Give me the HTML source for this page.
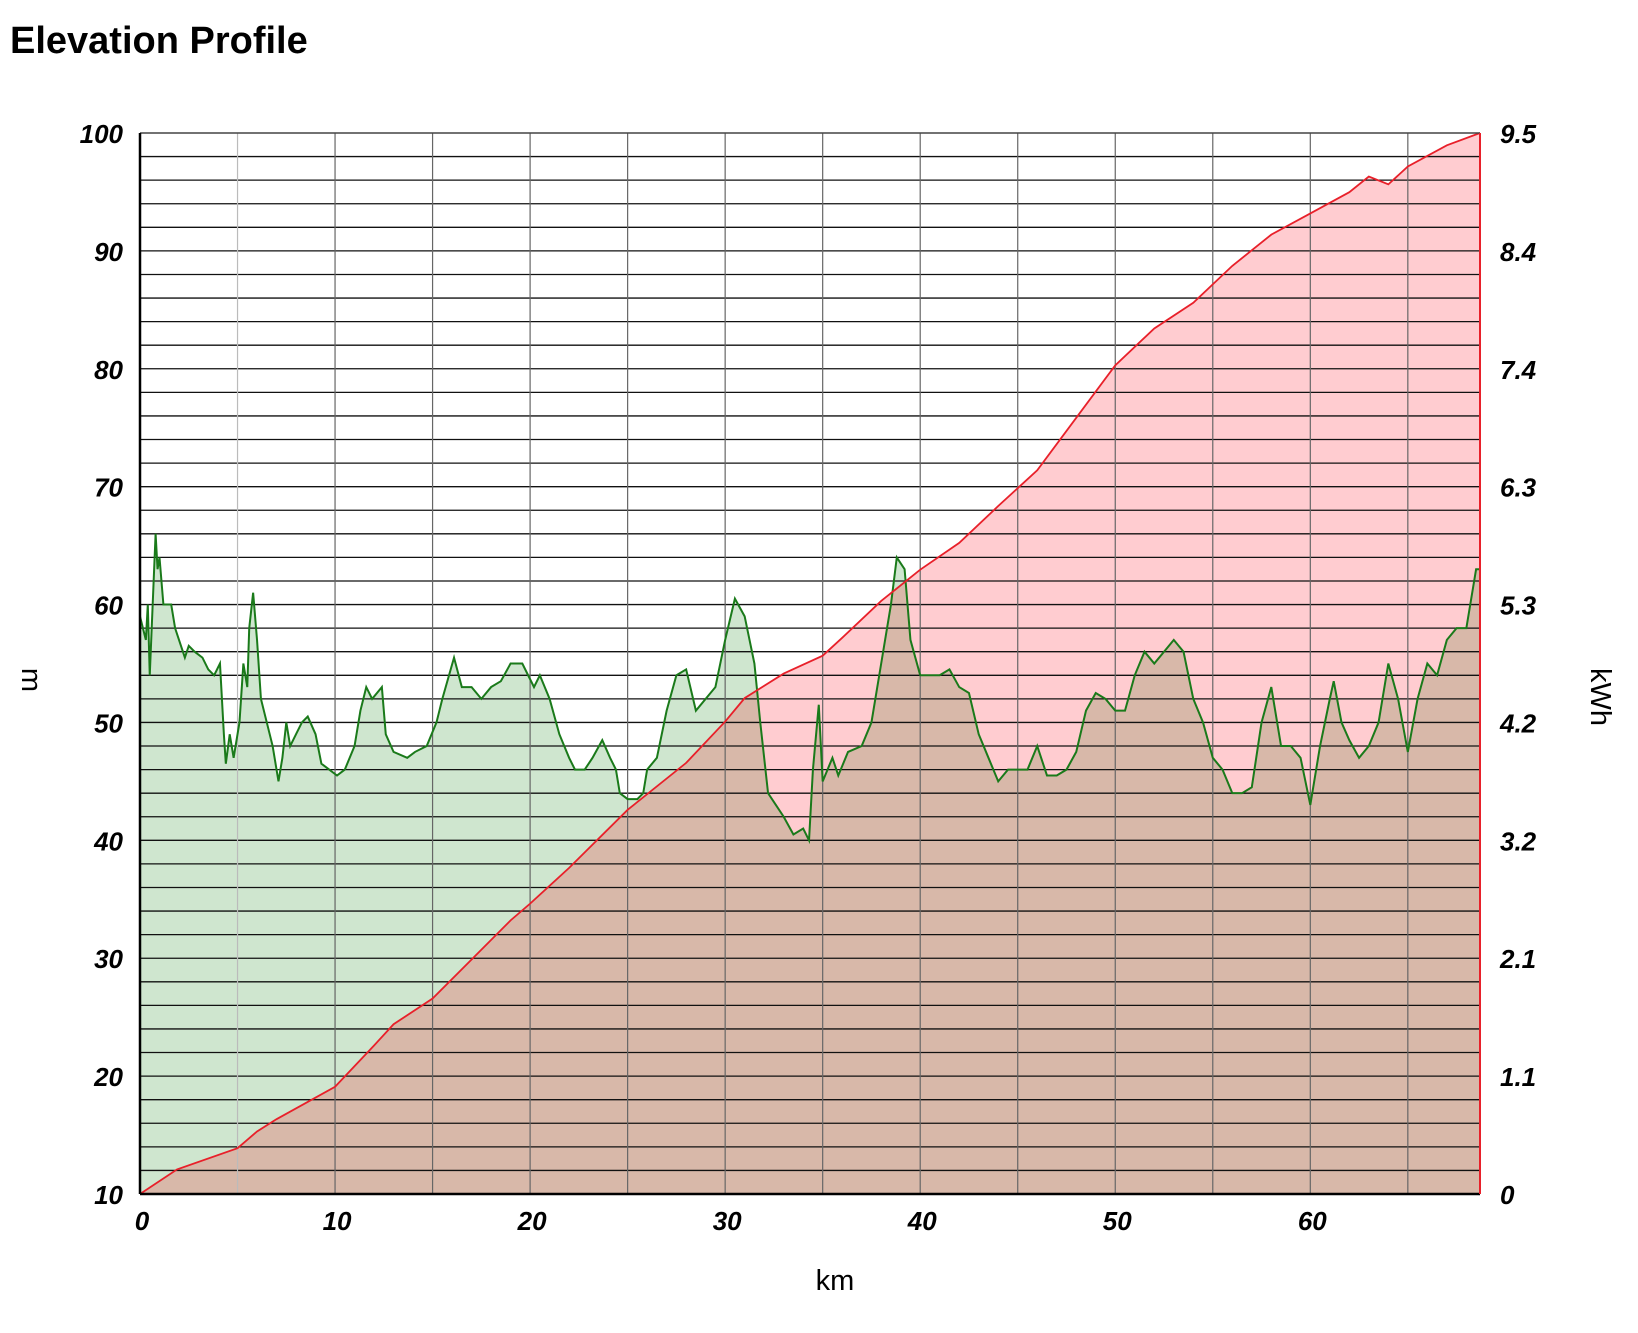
<!DOCTYPE html>
<html><head><meta charset="utf-8"><style>
body{margin:0;background:#fff;width:1638px;height:1328px;overflow:hidden;font-family:"Liberation Sans",sans-serif}
</style></head><body>
<svg width="1638" height="1328" xmlns="http://www.w3.org/2000/svg">
<text x="10" y="53" font-size="38" font-weight="bold" font-family="Liberation Sans, sans-serif">Elevation Profile</text>
<g id="fills"></g><g id="grid"></g><g id="lines"></g><g id="axes"></g>
</svg>
<script>
const kmX=[0,0.3,0.4,0.5,0.7,0.8,0.9,1.0,1.2,1.6,1.8,2.0,2.3,2.5,2.8,3.2,3.5,3.8,4.1,4.3,4.4,4.6,4.8,5.1,5.3,5.5,5.6,5.8,6.0,6.2,6.5,6.8,7.1,7.3,7.5,7.7,8.0,8.3,8.6,9.0,9.3,9.7,10.1,10.5,11.0,11.3,11.6,11.9,12.4,12.6,13.0,13.7,14.1,14.7,15.2,15.5,16.1,16.5,17.0,17.5,18.0,18.5,19.0,19.6,20.2,20.5,21.0,21.5,22.0,22.3,22.8,23.2,23.7,24.1,24.4,24.6,25.0,25.5,25.8,26.0,26.5,27.0,27.5,28.0,28.5,29.0,29.5,30.0,30.5,31.0,31.5,31.8,32.0,32.2,32.6,33.0,33.5,34.0,34.3,34.5,34.8,35.0,35.5,35.8,36.3,37.0,37.5,38.0,38.5,38.8,39.2,39.5,40.0,40.5,41.0,41.5,42.0,42.5,43.0,43.5,44.0,44.5,45.0,45.5,46.0,46.5,47.0,47.5,48.0,48.5,49.0,49.5,50.0,50.5,51.0,51.5,52.0,52.5,53.0,53.5,54.0,54.5,55.0,55.5,56.0,56.5,57.0,57.5,58.0,58.5,59.0,59.5,60.0,60.5,61.0,61.2,61.6,62.0,62.5,63.0,63.5,64.0,64.5,65.0,65.5,66.0,66.5,67.0,67.5,68.0,68.5,68.7];
const elevation=[59,57,60,54,62,66,63,64,60,60,58,57,55.5,56.5,56,55.5,54.5,54,55,49,46.5,49,47,50,55,53,58,61,57,52,50,48,45,47,50,48,49,50,50.5,49,46.5,46,45.5,46,48,51,53,52,53,49,47.5,47,47.5,48,50,52,55.5,53,53,52,53,53.5,55,55,53,54,52,49,47,46,46,47,48.5,47,46,44,43.5,43.5,44,46,47,51,54,54.5,51,52,53,57,60.5,59,55,50,47,44,43,42,40.5,41,40,46,51.5,45,47,45.5,47.5,48,50,55,60,64,63,57,54,54,54,54.5,53,52.5,49,47,45,46,46,46,48,45.5,45.5,46,47.5,51,52.5,52,51,51,54,56,55,56,57,56,52,50,47,46,44,44,44.5,50,53,48,48,47,43,48,52,53.5,50,48.5,47,48,50,55,52,47.5,52,55,54,57,58,58,63,63];
const energyKm=[0,1.9,5,6,7,10,12,13,15,17,19,20,22,25,28,30,31,33,35,36,38,40,42,44,46,48,50,52,54,56,58,60,62,63,64,65,67,68.7];
const energy=[0,0.22,0.41,0.56,0.67,0.96,1.33,1.52,1.75,2.1,2.45,2.6,2.92,3.44,3.86,4.23,4.44,4.66,4.82,4.98,5.31,5.59,5.83,6.16,6.48,6.95,7.42,7.75,7.98,8.31,8.59,8.78,8.97,9.11,9.04,9.2,9.39,9.5];
const xTicks=[0,10,20,30,40,50,60];
const yTicks=[10,20,30,40,50,60,70,80,90,100];
const rTicks=["0","1.1","2.1","3.2","4.2","5.3","6.3","7.4","8.4","9.5"];
const L=140,R=1480,T=133,B=1194,XMAX=68.7;
const NS="http://www.w3.org/2000/svg";
const X=k=>L+(R-L)*k/XMAX, Y=m=>B-(B-T)*(m-10)/90, YE=e=>B-(B-T)*e/9.5;
function mk(tag,attrs,parent){const e=document.createElementNS(NS,tag);for(const k in attrs)e.setAttribute(k,attrs[k]);document.getElementById(parent).appendChild(e);return e;}
let gp=kmX.map((k,i)=>X(k)+","+Y(elevation[i])).join(" L");
let e1=mk("path",{d:"M"+X(0)+","+B+" L"+gp+" L"+X(kmX[kmX.length-1])+","+B+"Z",fill:"rgba(0,120,0,0.19)"},"fills");


let rp=energyKm.map((k,i)=>X(k)+","+YE(energy[i])).join(" L");
let e2=mk("path",{d:"M"+X(0)+","+B+" L"+rp+" L"+R+","+B+"Z",fill:"rgba(255,0,20,0.2)"},"fills");


for(let m=12;m<100;m+=2){let g=mk("line",{x1:L,x2:R,y1:Y(m),y2:Y(m),stroke:"#111","stroke-width":1.3},"grid");

}
for(let k=5;k<XMAX;k+=5){let g=mk("line",{x1:X(k),x2:X(k),y1:T,y2:B,stroke:k==5?"#bbb":"#666","stroke-width":1.2},"grid");

}
let l1=mk("path",{d:"M"+X(0)+","+B+" L"+gp,fill:"none",stroke:"#1a7a1a","stroke-width":2},"lines");


let l2=mk("path",{d:"M"+rp,fill:"none",stroke:"#e8202a","stroke-width":1.8},"lines");


let a=mk("line",{x1:L,x2:R,y1:T,y2:T,stroke:"#444","stroke-width":1.5},"axes");


a=mk("line",{x1:L,x2:L,y1:T,y2:B,stroke:"#000","stroke-width":2.5},"axes");


a=mk("line",{x1:L,x2:R,y1:B,y2:B,stroke:"#000","stroke-width":2.5},"axes");


a=mk("line",{x1:R,x2:R,y1:T,y2:B,stroke:"#e8202a","stroke-width":2},"axes");


const fs='font-family:"Liberation Sans",sans-serif;font-weight:bold;font-style:italic;font-size:26px';
yTicks.forEach((v,i)=>{let t=mk("text",{x:L-17,y:Y(v)+10,"text-anchor":"end",style:fs},"axes");t.textContent=v;


let r=mk("text",{x:R+20,y:Y(v)+10,"text-anchor":"start",style:fs},"axes");r.textContent=rTicks[i];

});
xTicks.forEach(v=>{let t=mk("text",{x:X(v)+2,y:B+36,"text-anchor":"middle",style:fs},"axes");t.textContent=v;

});
let xt=mk("text",{x:835,y:1290,"text-anchor":"middle","font-size":29,"font-family":"Liberation Sans, sans-serif"},"axes");xt.textContent="km";


let yt=mk("text",{x:0,y:0,"text-anchor":"middle","font-size":29,"font-family":"Liberation Sans, sans-serif",transform:"translate(22,680) rotate(90)"},"axes");yt.textContent="m";


let rt=mk("text",{x:0,y:0,"text-anchor":"middle","font-size":29,"font-family":"Liberation Sans, sans-serif",transform:"translate(1591,697) rotate(90)"},"axes");rt.textContent="kWh";


</script>
</body></html>
